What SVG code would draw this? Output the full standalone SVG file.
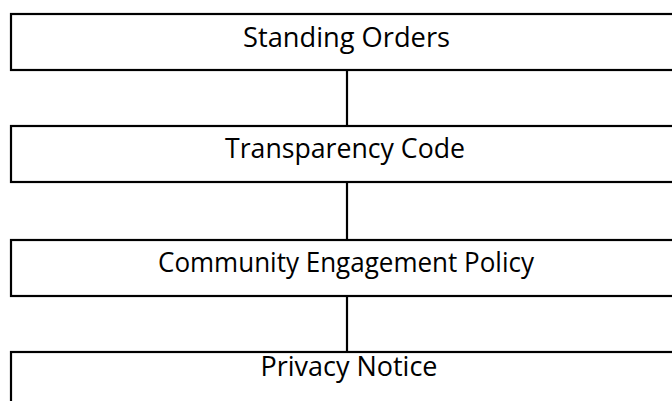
<svg xmlns="http://www.w3.org/2000/svg" width="672" height="401" viewBox="0 0 672 401">
<style>
.box{fill:#fff;stroke:#000;stroke-width:2.2}
.lbl{font-family:"Open Sans","Liberation Sans",sans-serif;font-size:28px;fill:#000;text-anchor:middle}
.con{stroke:#000;stroke-width:2.2;fill:none}
</style>
<rect width="672" height="401" fill="#fff"/>
<g id="connectors">
<line class="con" x1="347" y1="70" x2="347" y2="126"/>
<line class="con" x1="347" y1="182" x2="347" y2="240"/>
<line class="con" x1="347" y1="296" x2="347" y2="352"/>
</g>
<g id="standing-orders">
<rect class="box" x="11" y="14" width="680" height="56"/>
<text class="lbl" x="346.5" y="47" textLength="207" lengthAdjust="spacingAndGlyphs">Standing Orders</text>
</g>
<g id="transparency-code">
<rect class="box" x="11" y="126" width="680" height="56"/>
<text class="lbl" x="345" y="158" textLength="240" lengthAdjust="spacingAndGlyphs">Transparency Code</text>
</g>
<g id="community-engagement-policy">
<rect class="box" x="11" y="240" width="680" height="56"/>
<text class="lbl" x="346" y="272" textLength="376" lengthAdjust="spacingAndGlyphs">Community Engagement Policy</text>
</g>
<g id="privacy-notice">
<rect class="box" x="11" y="352" width="680" height="80"/>
<text class="lbl" x="349" y="376" textLength="177" lengthAdjust="spacingAndGlyphs">Privacy Notice</text>
</g>
</svg>
